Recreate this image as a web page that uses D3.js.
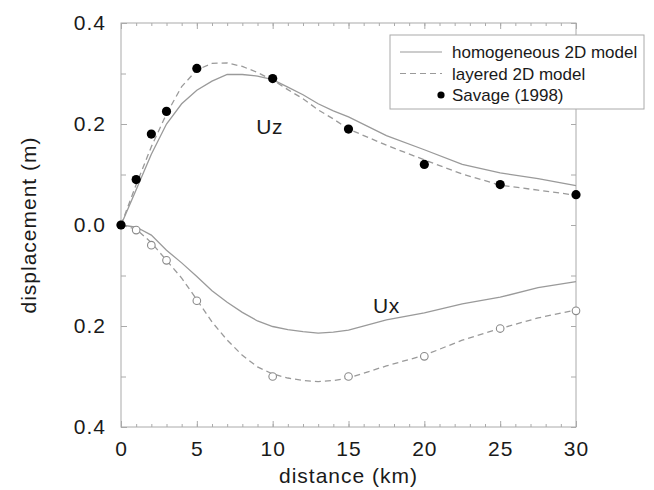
<!DOCTYPE html>
<html>
<head>
<meta charset="utf-8">
<script src="https://cdn.jsdelivr.net/npm/d3@7"></script>
<style>
  body { margin: 0; background: #fff; }
  svg { font-family: "Liberation Sans", Arial, Helvetica, sans-serif; }
</style>
</head>
<body>
<svg id="chart" width="654" height="490"></svg>
<script>
"use strict";

// model curves (Ux plotted downward, so stored negative)
var model_dist = [0,1,2,3,4,5,6,7,8,9,10,11,12,13,14,15,17.5,20,22.5,25,27.5,30];
var homog_uz = [0,0.07,0.14,0.20,0.24,0.267,0.285,0.298,0.298,0.295,0.288,0.273,0.258,0.240,0.226,0.214,0.177,0.149,0.120,0.103,0.092,0.078];
var layer_uz = [0,0.08,0.155,0.22,0.274,0.307,0.320,0.321,0.314,0.302,0.287,0.268,0.250,0.228,0.210,0.190,0.158,0.129,0.101,0.079,0.069,0.059];
var homog_ux = [0,-0.004,-0.02,-0.05,-0.075,-0.102,-0.13,-0.153,-0.173,-0.19,-0.201,-0.207,-0.211,-0.214,-0.212,-0.208,-0.188,-0.174,-0.156,-0.143,-0.124,-0.112];
var layer_ux = [0,-0.008,-0.035,-0.07,-0.105,-0.148,-0.192,-0.228,-0.258,-0.281,-0.295,-0.303,-0.308,-0.310,-0.308,-0.303,-0.279,-0.258,-0.228,-0.205,-0.184,-0.168];

// Savage (1998) observations
var savage_dist = [0,1,2,3,5,10,15,20,25,30];
var savage_uz = [0,0.09,0.18,0.225,0.31,0.29,0.19,0.12,0.08,0.06];
var savage_ux = [0,-0.01,-0.04,-0.07,-0.15,-0.30,-0.30,-0.26,-0.205,-0.17];

var x_ticks = [0,5,10,15,20,25,30];
var y_ticks = [-0.4,-0.2,0,0.2,0.4];
var legend_labels = ["homogeneous 2D model","layered 2D model","Savage (1998)"];

var plot_left = 121, plot_right = 576, plot_top = 23, plot_bottom = 427;
var line_color = "#9a9a9a", frame_color = "#aaaaaa", text_color = "#1a1a1a";

var svg = d3.select("#chart");

var x = d3.scaleLinear().domain([0, 30]).range([plot_left, plot_right]);
var y = d3.scaleLinear().domain([-0.4, 0.4]).range([plot_bottom, plot_top]);

//frame
svg.append("rect")
	.attr("x", plot_left).attr("y", plot_top)
	.attr("width", plot_right - plot_left).attr("height", plot_bottom - plot_top)
	.attr("fill", "none").attr("stroke", frame_color).attr("stroke-width", 1);

//ticks, pointing inward on all four sides
var fmt = function(d) { return Math.abs(d).toFixed(1); };
var minor_x = d3.range(0, 31, 1);
var minor_y = d3.range(-4, 5, 1).map(function(d) { return d / 10; });

svg.append("g").attr("transform", "translate(0," + plot_bottom + ")")
	.call(d3.axisBottom(x).tickValues(minor_x).tickSize(-3).tickFormat(""));
svg.append("g").attr("transform", "translate(0," + plot_bottom + ")")
	.call(d3.axisBottom(x).tickValues(x_ticks).tickSize(-6).tickPadding(14).tickFormat(d3.format("d")));
svg.append("g").attr("transform", "translate(0," + plot_top + ")")
	.call(d3.axisTop(x).tickValues(minor_x).tickSize(-3).tickFormat(""));
svg.append("g").attr("transform", "translate(0," + plot_top + ")")
	.call(d3.axisTop(x).tickValues(x_ticks).tickSize(-6).tickFormat(""));

svg.append("g").attr("transform", "translate(" + plot_left + ",0)")
	.call(d3.axisLeft(y).tickValues(minor_y).tickSize(-5).tickFormat(""));
svg.append("g").attr("transform", "translate(" + plot_left + ",0)")
	.call(d3.axisLeft(y).tickValues(y_ticks).tickSize(-6).tickPadding(15).tickFormat(fmt));
svg.append("g").attr("transform", "translate(" + plot_right + ",0)")
	.call(d3.axisRight(y).tickValues(minor_y).tickSize(-5).tickFormat(""));

svg.selectAll(".domain").remove();
svg.selectAll(".tick line").attr("stroke", frame_color);
svg.selectAll(".tick text")
	.attr("font-size", 21)
	.attr("letter-spacing", 1)
	.attr("fill", text_color)
	.style("font-family", "'Liberation Sans', Arial, sans-serif");

//curves
var line = d3.line()
	.x(function(d) { return x(d[0]); })
	.y(function(d) { return y(d[1]); });

function addCurve(vals, dashed) {
	svg.append("path")
		.datum(d3.zip(model_dist, vals))
		.attr("d", line)
		.attr("fill", "none")
		.attr("stroke", line_color)
		.attr("stroke-width", 1.3)
		.attr("stroke-dasharray", dashed ? "6,4" : null);
}
addCurve(homog_uz, false);
addCurve(layer_uz, true);
addCurve(homog_ux, false);
addCurve(layer_ux, true);

//observations
svg.selectAll(".ux_pt").data(d3.zip(savage_dist, savage_ux)).enter()
	.append("circle")
	.attr("class", "ux_pt")
	.attr("cx", function(d) { return x(d[0]); })
	.attr("cy", function(d) { return y(d[1]); })
	.attr("r", 3.8)
	.attr("fill", "#fff")
	.attr("stroke", "#8a8a8a")
	.attr("stroke-width", 1.1);

svg.selectAll(".uz_pt").data(d3.zip(savage_dist, savage_uz)).enter()
	.append("circle")
	.attr("class", "uz_pt")
	.attr("cx", function(d) { return x(d[0]); })
	.attr("cy", function(d) { return y(d[1]); })
	.attr("r", 4.6)
	.attr("fill", "#000");

//curve labels
svg.append("text").attr("x", x(9.8)).attr("y", y(0.18)).attr("text-anchor", "middle")
	.attr("font-size", 21).attr("letter-spacing", 0.5).attr("fill", text_color).text("Uz");
svg.append("text").attr("x", x(17.5)).attr("y", y(-0.175)).attr("text-anchor", "middle")
	.attr("font-size", 21).attr("letter-spacing", 0.5).attr("fill", text_color).text("Ux");

//axis titles
svg.append("text").attr("x", (plot_left + plot_right) / 2).attr("y", 483).attr("text-anchor", "middle")
	.attr("font-size", 21).attr("letter-spacing", 1).attr("fill", text_color).text("distance (km)");
svg.append("text")
	.attr("transform", "translate(36," + y(0) + ") rotate(-90)")
	.attr("text-anchor", "middle")
	.attr("font-size", 21).attr("letter-spacing", 1).attr("fill", text_color).text("displacement (m)");

//legend
var lg = svg.append("g").attr("transform", "translate(390,35)");
lg.append("rect").attr("width", 254).attr("height", 74)
	.attr("fill", "#fff").attr("stroke", frame_color).attr("stroke-width", 1);
legend_labels.forEach(function(label, i) {
	var ly = 17 + i * 21.5;
	if (i < 2) {
		lg.append("line").attr("x1", 10).attr("x2", 52).attr("y1", ly).attr("y2", ly)
			.attr("stroke", line_color).attr("stroke-width", 1.2)
			.attr("stroke-dasharray", i == 1 ? "6,4" : null);
	} else {
		lg.append("circle").attr("cx", 51).attr("cy", ly).attr("r", 3.6).attr("fill", "#000");
	}
	lg.append("text").attr("x", 62).attr("y", ly + 6)
		.attr("font-size", 17).attr("fill", text_color).text(label);
});
</script>
</body>
</html>
